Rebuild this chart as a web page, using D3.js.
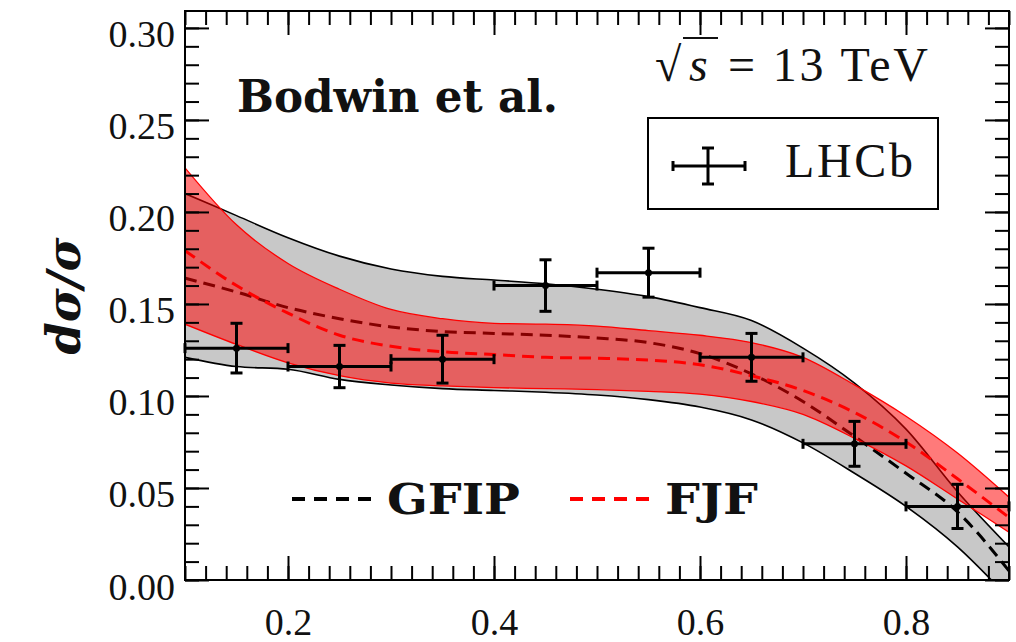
<!DOCTYPE html>
<html lang="en">
<head>
<meta charset="UTF-8">
<script src="https://cdn.jsdelivr.net/npm/d3@7"></script>
<style>
    body { margin: 0; background: #fff; }
    svg { display: block; }
    text { font-family: "Liberation Serif", "DejaVu Serif", serif; fill: #111; }
    .wide { font-family: "DejaVu Serif", "Liberation Serif", serif; }
</style>
<title>dsigma/sigma</title>
</head>
<body>
<svg id="chart" width="1016" height="642"></svg>
<script>
    // grid in z for the theory bands
    var bandZ = [0.10, 0.15, 0.20, 0.25, 0.30, 0.35, 0.40, 0.45, 0.50, 0.55, 0.60, 0.65, 0.70, 0.75, 0.80, 0.85, 0.90];
    // GFIP (grey band)
    var gfipUpper   = [0.210, 0.198, 0.186, 0.176, 0.169, 0.165, 0.163, 0.161, 0.158, 0.154, 0.148, 0.141, 0.126, 0.107, 0.082, 0.048, 0.018];
    var gfipLower   = [0.121, 0.116, 0.1145, 0.109, 0.106, 0.104, 0.103, 0.102, 0.1005, 0.098, 0.094, 0.087, 0.0745, 0.058, 0.040, 0.018, -0.010];
    var gfipCentral = [0.164, 0.1565, 0.148, 0.142, 0.1375, 0.135, 0.134, 0.133, 0.1315, 0.129, 0.123, 0.112, 0.097, 0.078, 0.058, 0.037, 0.005];
    // FJF (red band)
    var fjfUpper    = [0.224, 0.193, 0.172, 0.158, 0.147, 0.142, 0.1395, 0.139, 0.138, 0.1355, 0.133, 0.129, 0.121, 0.106, 0.089, 0.069, 0.045];
    var fjfLower    = [0.139, 0.128, 0.118, 0.111, 0.107, 0.1055, 0.1045, 0.104, 0.1035, 0.1025, 0.101, 0.097, 0.090, 0.077, 0.062, 0.044, 0.026];
    var fjfCentral  = [0.179, 0.160, 0.145, 0.133, 0.127, 0.124, 0.1225, 0.121, 0.1205, 0.1195, 0.117, 0.111, 0.103, 0.091, 0.075, 0.055, 0.034];
    // LHCb data
    var lhcbZ    = [0.15, 0.25, 0.35, 0.45, 0.55, 0.65, 0.75, 0.85];
    var lhcbVal  = [0.126, 0.116, 0.120, 0.160, 0.167, 0.121, 0.074, 0.040];
    var lhcbErr  = [0.0135, 0.0115, 0.013, 0.014, 0.0133, 0.013, 0.0122, 0.012];
    var lhcbHalf = [0.05, 0.05, 0.05, 0.05, 0.05, 0.05, 0.05, 0.05];
    // ticks
    var xMajor = [0.2, 0.4, 0.6, 0.8];
    var yMajor = [0.00, 0.05, 0.10, 0.15, 0.20, 0.25, 0.30];

    var svg = d3.select("#chart");
    var margin = {top: 11, right: 7, bottom: 62, left: 185};
    var width = 1016 - margin.left - margin.right;
    var height = 642 - margin.top - margin.bottom;
    var g = svg.append("g").attr("transform", "translate(" + margin.left + "," + margin.top + ")");

    var x = d3.scaleLinear().domain([0.1, 0.9]).range([0, width]);
    var y = d3.scaleLinear().domain([0, 0.3092]).range([height, 0]);

    svg.append("defs").append("clipPath").attr("id", "plotclip")
        .append("rect").attr("width", width).attr("height", height);

    var plot = g.append("g").attr("clip-path", "url(#plotclip)");

    function bandArea(lo, hi) {
        return d3.area()
            .x(function (d, i) { return x(bandZ[i]); })
            .y0(function (d, i) { return y(lo[i]); })
            .y1(function (d, i) { return y(hi[i]); })
            .curve(d3.curveMonotoneX);
    }
    function bandLine(vals) {
        return d3.line()
            .x(function (d, i) { return x(bandZ[i]); })
            .y(function (d, i) { return y(vals[i]); })
            .curve(d3.curveMonotoneX);
    }

    // grey GFIP band
    plot.append("path").datum(bandZ).attr("d", bandArea(gfipLower, gfipUpper)).attr("fill", "#c8c8c8");
    [gfipUpper, gfipLower].forEach(function (v) {
        plot.append("path").datum(bandZ).attr("d", bandLine(v))
            .attr("fill", "none").attr("stroke", "#000").attr("stroke-width", 1.6);
    });
    plot.append("path").datum(bandZ).attr("d", bandLine(gfipCentral))
        .attr("fill", "none").attr("stroke", "#000").attr("stroke-width", 3)
        .attr("stroke-dasharray", "12,7");

    // LHCb points
    var pts = g.append("g").selectAll("g").data(lhcbZ).enter().append("g")
        .attr("stroke", "#000").attr("stroke-width", 3);
    pts.append("line")
        .attr("x1", function (d, i) { return x(d - lhcbHalf[i]); })
        .attr("x2", function (d, i) { return x(d + lhcbHalf[i]); })
        .attr("y1", function (d, i) { return y(lhcbVal[i]); })
        .attr("y2", function (d, i) { return y(lhcbVal[i]); });
    pts.append("line")
        .attr("x1", function (d) { return x(d); })
        .attr("x2", function (d) { return x(d); })
        .attr("y1", function (d, i) { return y(lhcbVal[i] - lhcbErr[i]); })
        .attr("y2", function (d, i) { return y(lhcbVal[i] + lhcbErr[i]); });
    [-1, 1].forEach(function (s) {
        pts.append("line")
            .attr("x1", function (d) { return x(d) - 6; })
            .attr("x2", function (d) { return x(d) + 6; })
            .attr("y1", function (d, i) { return y(lhcbVal[i] + s * lhcbErr[i]); })
            .attr("y2", function (d, i) { return y(lhcbVal[i] + s * lhcbErr[i]); });
        pts.append("line")
            .attr("x1", function (d, i) { return x(d + s * lhcbHalf[i]); })
            .attr("x2", function (d, i) { return x(d + s * lhcbHalf[i]); })
            .attr("y1", function (d, i) { return y(lhcbVal[i]) - 5; })
            .attr("y2", function (d, i) { return y(lhcbVal[i]) + 5; });
    });
    pts.append("circle")
        .attr("cx", function (d) { return x(d); })
        .attr("cy", function (d, i) { return y(lhcbVal[i]); })
        .attr("r", 3.5).attr("fill", "#000").attr("stroke", "none");

    // red FJF band drawn on top, translucent
    plot.append("path").datum(bandZ).attr("d", bandArea(fjfLower, fjfUpper))
        .attr("fill", "#ff0000").attr("fill-opacity", 0.52);
    [fjfUpper, fjfLower].forEach(function (v) {
        plot.append("path").datum(bandZ).attr("d", bandLine(v))
            .attr("fill", "none").attr("stroke", "#ff0000").attr("stroke-width", 1.3);
    });
    plot.append("path").datum(bandZ).attr("d", bandLine(fjfCentral))
        .attr("fill", "none").attr("stroke", "#ff0000").attr("stroke-width", 3)
        .attr("stroke-dasharray", "12,7");

    // axes
    var yMinor = d3.range(0, 0.3051, 0.01);
    var xMinor = d3.range(0.1, 0.9001, 0.02);
    function styleAxis(sel) {
        sel.select(".domain").remove();
        sel.selectAll(".tick line").attr("stroke", "#000").attr("stroke-width", 2);
        sel.attr("font-family", null).attr("font-size", null);
    }
    g.append("g").call(d3.axisLeft(y).tickValues(yMinor).tickSize(-14).tickFormat("")).call(styleAxis);
    g.append("g").attr("transform", "translate(" + width + ",0)")
        .call(d3.axisRight(y).tickValues(yMinor).tickSize(-14).tickFormat("")).call(styleAxis);
    g.append("g").attr("transform", "translate(0," + height + ")")
        .call(d3.axisBottom(x).tickValues(xMinor).tickSize(-14).tickFormat("")).call(styleAxis);
    g.append("g").call(d3.axisTop(x).tickValues(xMinor).tickSize(-14).tickFormat("")).call(styleAxis);

    var yl = g.append("g").call(d3.axisLeft(y).tickValues(yMajor).tickSize(-24).tickPadding(10)
        .tickFormat(d3.format(".2f"))).call(styleAxis);
    yl.selectAll("text").attr("dy", 19).attr("font-size", 38);
    g.append("g").attr("transform", "translate(" + width + ",0)")
        .call(d3.axisRight(y).tickValues(yMajor).tickSize(-24).tickFormat("")).call(styleAxis);
    var xl = g.append("g").attr("transform", "translate(0," + height + ")")
        .call(d3.axisBottom(x).tickValues(xMajor).tickSize(-24).tickFormat(d3.format(".1f"))).call(styleAxis);
    xl.selectAll("text").attr("y", 55).attr("dy", 0).attr("font-size", 38);
    g.append("g").call(d3.axisTop(x).tickValues(xMajor).tickSize(-24).tickFormat("")).call(styleAxis);

    g.append("rect").attr("width", width).attr("height", height)
        .attr("fill", "none").attr("stroke", "#000").attr("stroke-width", 2);

    // y label
    svg.append("text").attr("class", "wide")
        .attr("transform", "translate(80,296) rotate(-90)")
        .attr("text-anchor", "middle")
        .attr("font-size", 46).attr("font-weight", "bold").attr("font-style", "italic")
        .text("dσ/σ");

    // annotations
    svg.append("text").attr("class", "wide").attr("x", 237).attr("y", 112)
        .attr("font-size", 44).attr("font-weight", "bold")
        .attr("textLength", 321).attr("lengthAdjust", "spacingAndGlyphs")
        .text("Bodwin et al.");

    svg.append("text").attr("x", 655).attr("y", 81).attr("font-size", 48).text("√");
    svg.append("text").attr("x", 689).attr("y", 81).attr("font-size", 48).attr("font-style", "italic").text("s");
    svg.append("line").attr("x1", 683).attr("x2", 718).attr("y1", 38).attr("y2", 38)
        .attr("stroke", "#111").attr("stroke-width", 2);
    svg.append("text").attr("x", 728).attr("y", 81).attr("font-size", 48)
        .attr("textLength", 200).attr("lengthAdjust", "spacing")
        .text("= 13 TeV");

    // LHCb legend box
    var leg = svg.append("g");
    leg.append("rect").attr("x", 648).attr("y", 118).attr("width", 290).attr("height", 91)
        .attr("fill", "#fff").attr("stroke", "#000").attr("stroke-width", 2);
    var lm = leg.append("g").attr("stroke", "#000").attr("stroke-width", 3);
    lm.append("line").attr("x1", 673).attr("x2", 745).attr("y1", 166).attr("y2", 166);
    lm.append("line").attr("x1", 708).attr("x2", 708).attr("y1", 148).attr("y2", 184);
    lm.append("line").attr("x1", 702).attr("x2", 714).attr("y1", 148).attr("y2", 148);
    lm.append("line").attr("x1", 702).attr("x2", 714).attr("y1", 184).attr("y2", 184);
    lm.append("line").attr("x1", 673).attr("x2", 673).attr("y1", 161).attr("y2", 171);
    lm.append("line").attr("x1", 745).attr("x2", 745).attr("y1", 161).attr("y2", 171);
    leg.append("text").attr("x", 785).attr("y", 177).attr("font-size", 48)
        .attr("textLength", 128).attr("lengthAdjust", "spacing").text("LHCb");

    // curve legend
    svg.append("line").attr("x1", 292).attr("x2", 372).attr("y1", 499).attr("y2", 499)
        .attr("stroke", "#000").attr("stroke-width", 4).attr("stroke-dasharray", "13,9");
    svg.append("text").attr("class", "wide").attr("x", 387).attr("y", 514).attr("font-size", 42).attr("font-weight", "bold")
        .attr("textLength", 133).attr("lengthAdjust", "spacingAndGlyphs").text("GFIP");
    svg.append("line").attr("x1", 570).attr("x2", 652).attr("y1", 499).attr("y2", 499)
        .attr("stroke", "#ff0000").attr("stroke-width", 4).attr("stroke-dasharray", "13,9");
    svg.append("text").attr("class", "wide").attr("x", 665).attr("y", 514).attr("font-size", 42).attr("font-weight", "bold")
        .attr("textLength", 93).attr("lengthAdjust", "spacingAndGlyphs").text("FJF");
</script>
</body>
</html>
